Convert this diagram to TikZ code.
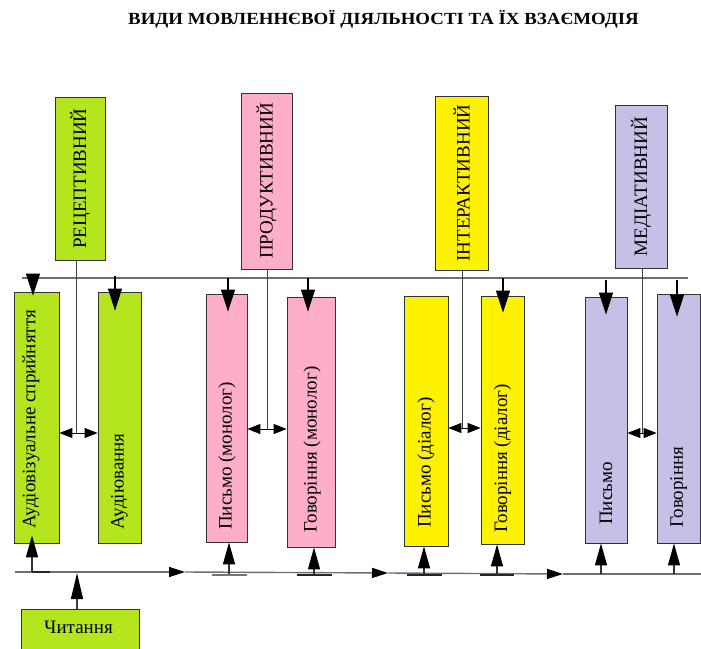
\documentclass[tikz,border=0pt]{standalone}
\usepackage{fontspec}
\setmainfont{Liberation Serif}
\usetikzlibrary{arrows.meta,calc}
\definecolor{cgreen}{RGB}{181,230,29}
\definecolor{cpink}{RGB}{255,174,201}
\definecolor{cyell}{RGB}{255,242,0}
\definecolor{clav}{RGB}{200,191,231}
\definecolor{lgray}{RGB}{110,110,110}
\begin{document}
\begin{tikzpicture}[x=1pt,y=-1pt,
  box/.style={draw=black!80, line width=0.8pt, rectangle, inner sep=0pt, anchor=center},
  lbl/.style={font=\fontsize{19}{21}\selectfont, inner sep=0pt, rotate=90},
  hline/.style={draw=lgray, line width=1.4pt},
  vline/.style={draw=black!75, line width=0.8pt},
  downarr/.style={draw=black, line width=1.2pt, -{Triangle[length=22pt,width=14pt]}},
  uparr/.style={draw=black!80, line width=1.2pt, -{Triangle[length=22pt,width=12pt,color=black]}},
  dbl/.style={draw=black, line width=1pt, {Triangle[length=13pt,width=10pt]}-{Triangle[length=13pt,width=10pt]}},
  flow/.style={draw=lgray, line width=1.4pt, -{Triangle[length=16pt,width=10pt,color=black]}},
  tbar/.style={draw=black!85, line width=1.6pt},
]
\useasboundingbox (0,0) rectangle (701,648);

% title
\node[font=\fontsize{17}{20}\selectfont\bfseries, inner sep=0pt] (title) at (383.5,19.5) {\scalebox{1.11}[1]{ВИДИ МОВЛЕННЄВОЇ ДІЯЛЬНОСТІ ТА ЇХ ВЗАЄМОДІЯ}};

% top boxes
\node[box, fill=cgreen, minimum width=50pt, minimum height=163pt] (rec) at (80,178.5) {};
\node[box, fill=cpink, minimum width=51pt, minimum height=176pt] (prod) at (266.5,181) {};
\node[box, fill=cyell, minimum width=53pt, minimum height=174pt] (inter) at (461.5,183) {};
\node[box, fill=clav, minimum width=52pt, minimum height=163pt] (med) at (641,186.5) {};
\node[lbl] (trec) at (rec) {РЕЦЕПТИВНИЙ};
\node[lbl] (tprod) at (prod) {ПРОДУКТИВНИЙ};
\node[lbl] (tinter) at (inter) {ІНТЕРАКТИВНИЙ};
\node[lbl] (tmed) at (med) {МЕДІАТИВНИЙ};

% lower boxes
\node[box, fill=cgreen, minimum width=45pt, minimum height=251pt] (a1) at (36.5,417.5) {};
\node[box, fill=cgreen, minimum width=43pt, minimum height=251pt] (a2) at (119.5,417.5) {};
\node[box, fill=cpink, minimum width=41pt, minimum height=248pt] (p1) at (226.5,418) {};
\node[box, fill=cpink, minimum width=48pt, minimum height=250pt] (p2) at (311,422) {};
\node[box, fill=cyell, minimum width=44pt, minimum height=250pt] (i1) at (426,421) {};
\node[box, fill=cyell, minimum width=43pt, minimum height=248pt] (i2) at (502.5,420) {};
\node[box, fill=clav, minimum width=42pt, minimum height=246pt] (m1) at (606,420) {};
\node[box, fill=clav, minimum width=43pt, minimum height=249pt] (m2) at (678.5,418.5) {};

\node[lbl, anchor=west] (ta1) at (31,529) {Аудіовізуальне сприйняття};
\node[lbl, anchor=west] (ta2) at (119.5,530) {Аудіювання};
\node[lbl, anchor=west] (tp1) at (227,530) {Письмо (монолог)};
\node[lbl, anchor=west] (tp2) at (312,533) {Говоріння (монолог)};
\node[lbl, anchor=west] (ti1) at (426,528) {Письмо (діалог)};
\node[lbl, anchor=west] (ti2) at (502.5,533) {Говоріння (діалог)};
\node[lbl, anchor=west] (tm1) at (606,525) {Письмо};
\node[lbl, anchor=west] (tm2) at (678.5,528) {Говоріння};

% reading box
\node[box, fill=cgreen, minimum width=118pt, minimum height=46pt] (read) at (80,632) {};
\node[font=\fontsize{19}{21}\selectfont, inner sep=0pt] (tread) at (78.5,627) {Читання};

% top distribution line
\coordinate (tl1) at (22,278);
\coordinate (tl2) at (688,278);
\draw[hline] (tl1) -- (tl2);

% vertical lines from category boxes and double arrows
\coordinate (ja) at (76,433);
\coordinate (jp) at (267,429);
\coordinate (ji) at (462,428);
\coordinate (jm) at (642,433);
\draw[vline] (rec.south -| ja) -- (ja);
\draw[vline] (prod.south -| jp) -- (jp);
\draw[vline] (inter.south -| ji) -- (ji);
\draw[vline] (med.south -| jm) -- (jm);
\draw[dbl] (a1.east |- ja) -- (a2.west |- ja);
\draw[dbl] (p1.east |- jp) -- (p2.west |- jp);
\draw[dbl] (i1.east |- ji) -- (i2.west |- ji);
\draw[dbl] (m1.east |- jm) -- (m2.west |- jm);

% down arrows
\coordinate (d1) at (33,278);
\coordinate (d2) at (115,276);
\coordinate (d3) at (228,278);
\coordinate (d4) at (308,278);
\coordinate (d5) at (503,278);
\coordinate (d6) at (606,280);
\coordinate (d7) at (677,280);
\draw[downarr] (d1) -- ($(d1 |- a1.north)+(0,4)$);
\draw[downarr] (d2) -- ($(d2 |- a2.north)+(0,19)$);
\draw[downarr] (d3) -- ($(d3 |- p1.north)+(0,18)$);
\draw[downarr] (d4) -- ($(d4 |- p2.north)+(0,15)$);
\draw[downarr] (d5) -- ($(d5 |- i2.north)+(0,17)$);
\draw[downarr] (d6) -- ($(d6 |- m1.north)+(0,18)$);
\draw[downarr] (d7) -- ($(d7 |- m2.north)+(0,23)$);

% bottom flow line
\coordinate (b0) at (15,572);
\coordinate (f1) at (185,572);
\coordinate (f2) at (388,573);
\coordinate (f3) at (563,574);
\coordinate (b1) at (701,574);
\draw[flow] (b0) -- (f1);
\draw[flow] (f1) -- (f2);
\draw[flow] (f2) -- (f3);
\draw[hline] (f3) -- (b1);

% up arrows
\coordinate (u0) at (32,572);
\coordinate (u1) at (229,574);
\coordinate (u2) at (314,574);
\coordinate (u3) at (424,574);
\coordinate (u4) at (497,574);
\coordinate (u5) at (601,574);
\coordinate (u6) at (674,574);
\draw[tbar] (u0) -- ++(18,0);
\draw[uparr] (u0) -- ($(u0 |- a1.south)+(0,-8)$);
\draw[uparr] (u1) -- (u1 |- p1.south);
\draw[uparr] (u2) -- (u2 |- p2.south);
\draw[uparr] (u3) -- (u3 |- i1.south);
\draw[uparr] (u4) -- (u4 |- i2.south);
\draw[uparr] (u5) -- (u5 |- m1.south);
\draw[uparr] (u6) -- (u6 |- m2.south);
\draw[tbar, draw=black!55] ($(u1)+(-17,1)$) -- ($(u1)+(18,1)$);
\draw[tbar] ($(u2)+(-17,1)$) -- ($(u2)+(18,1)$);
\draw[tbar] ($(u3)+(-17,1)$) -- ($(u3)+(18,1)$);
\draw[tbar] ($(u4)+(-17,1)$) -- ($(u4)+(17,1)$);

% reading arrow
\coordinate (r0) at (77,573);
\draw[draw=black!75, line width=1.2pt, -{Triangle[length=26pt,width=12pt,color=black]}] (r0 |- read.north) -- (r0);
\end{tikzpicture}
\end{document}
